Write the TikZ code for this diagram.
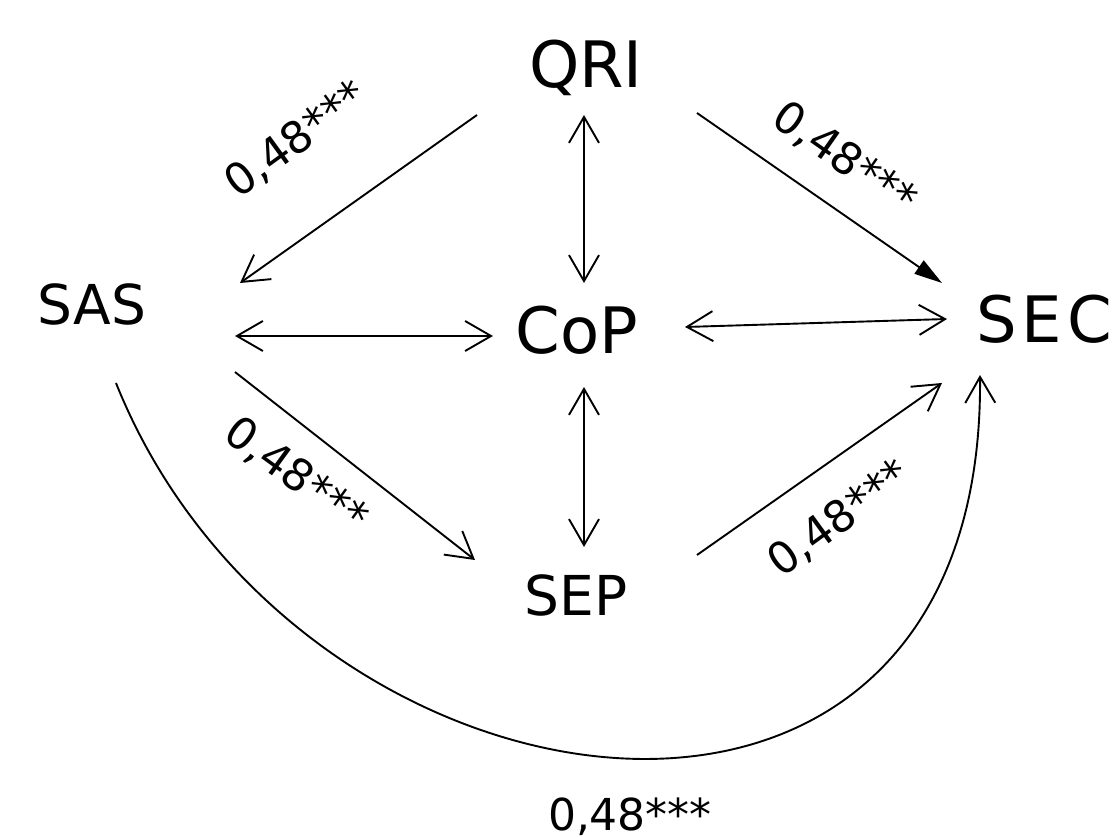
\documentclass[tikz,border=0pt]{standalone}
\usepackage{fontspec}
\setmainfont{DejaVu Sans}
\usetikzlibrary{arrows.meta}

\begin{document}
\begin{tikzpicture}[
  x=1pt, y=-1pt,
  big/.style={font=\fontsize{64}{64}\selectfont, inner sep=0pt, anchor=base},
  mid/.style={font=\fontsize{55}{55}\selectfont, inner sep=0pt, anchor=base},
  lbl/.style={font=\fontsize{44}{44}\selectfont, inner sep=0pt, text height=32pt, text depth=0pt},
  arr/.style={-{Straight Barb[length=26pt,width=30pt]}, line width=1.9pt},
  dbl/.style={{Straight Barb[length=26pt,width=30pt]}-{Straight Barb[length=26pt,width=30pt]}, line width=1.9pt},
  fil/.style={-{Triangle[length=28pt,width=16pt]}, line width=1.9pt}
]
\useasboundingbox (0,0) rectangle (1112,837);
\node[big] (qri) at (586,88) {QRI};
\node[mid] (sas) at (92,325) {SAS};
\node[big] (cop) at (577,353) {CoP};
\node[big, anchor=base west] (sec) at (976,342) {\addfontfeature{LetterSpace=8}SEC};
\node[mid] (sep) at (576,615) {SEP};
% paths between the constructs
\draw[arr] ([shift={(-109,27)}]qri.base) -- ([shift={(148,-42)}]sas.base);
\draw[dbl] ([shift={(-2,27)}]qri.base) -- ([shift={(7,-70)}]cop.base);
\draw[fil] ([shift={(111,25)}]qri.base) -- ([shift={(-34,-59)}]sec.base west);
\draw[dbl] ([shift={(143,11)}]sas.base) -- ([shift={(-84,-17)}]cop.base);
\draw[dbl] ([shift={(108,-26)}]cop.base) -- ([shift={(-29,-23)}]sec.base west);
\draw[arr] ([shift={(143,47)}]sas.base) -- ([shift={(-101,-55)}]sep.base);
\draw[dbl] ([shift={(7,34)}]cop.base) -- ([shift={(8,-68)}]sep.base);
\draw[arr] ([shift={(121,-60)}]sep.base) -- ([shift={(-34,41)}]sec.base west);
\draw[arr] ([shift={(24,58)}]sas.base) .. controls +(180,450) and +(5,560) .. ([shift={(4,33)}]sec.base west);
% coefficients
\node[lbl, rotate=36] (l1) at (295,138) {0,48***};
\node[lbl, rotate=-35] (l2) at (846,157) {0,48***};
\node[lbl, rotate=-36] (l3) at (297,474) {0,48***};
\node[lbl, rotate=36] (l4) at (838,517) {0,48***};
\node[lbl, anchor=base] (l5) at (630,830) {0,48***};
\end{tikzpicture}
\end{document}
